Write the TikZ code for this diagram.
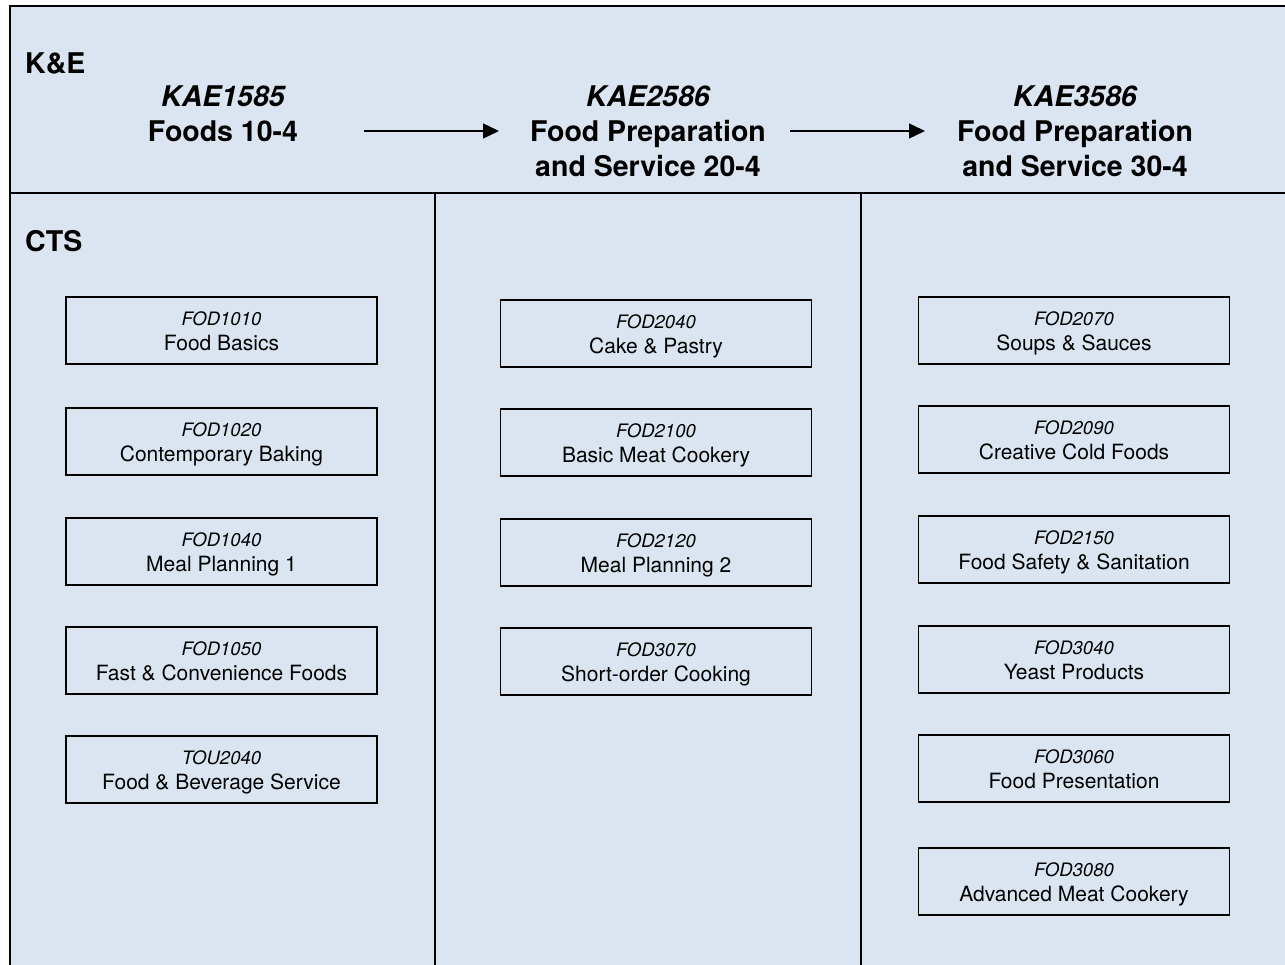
\documentclass[tikz,border=0pt]{standalone}
\usepackage{fontspec}
\setmainfont{TeX Gyre Heros}
\usetikzlibrary{arrows.meta}
\definecolor{bgblue}{HTML}{DBE5F1}
\tikzset{
  frameline/.style={line width=2pt, black},
  crsbox/.style={draw=black, line width=1.8pt, fill=bgblue, minimum width=311pt, minimum height=67pt, inner sep=0pt},
  codetxt/.style={font=\fontsize{18.5}{22}\selectfont\itshape, inner sep=0pt},
  titletxt/.style={font=\fontsize{21}{25}\selectfont, inner sep=0pt},
  hdtxt/.style={font=\fontsize{28.5}{34}\selectfont\bfseries, inner sep=0pt},
  hdcode/.style={font=\fontsize{28.5}{34}\selectfont\bfseries\itshape, inner sep=0pt},
  flow/.style={line width=1.3pt, -{Triangle[length=16pt,width=15pt]}}
}
\newcommand{\crs}[5]{%
  \node[crsbox] (#1) at (#2,#3+33.5) {};
  \node[codetxt, anchor=base] (#1c) at (#2,#3+28.5) {#4};
  \node[titletxt, anchor=base] (#1t) at (#2,#3+53.5) {#5};
}
\begin{document}
\begin{tikzpicture}[x=1pt,y=-1pt]
\useasboundingbox (0,0) rectangle (1285,965);
\fill[bgblue] (10,6) rectangle (1285,965);
% frame
\draw[frameline] (1285,6) -- (10,6) -- (10,965);
\draw[frameline] (10,193) -- (1285,193);
\draw[frameline] (435,193) -- (435,965);
\draw[frameline] (861,193) -- (861,965);
% labels
\node[hdtxt, anchor=base west] (ke) at (25,74) {K\&E};
\node[hdtxt, anchor=base west] (cts) at (25,252) {CTS};
% headers
\node[hdcode, anchor=base] (h1c) at (223,107) {KAE1585};
\node[hdtxt, anchor=base] (h1a) at (223,142) {Foods 10-4};
\node[hdcode, anchor=base] (h2c) at (648,107) {KAE2586};
\node[hdtxt, anchor=base] (h2a) at (648,142) {Food Preparation};
\node[hdtxt, anchor=base] (h2b) at (648,177) {and Service 20-4};
\node[hdcode, anchor=base] (h3c) at (1075,107) {KAE3586};
\node[hdtxt, anchor=base] (h3a) at (1075,142) {Food Preparation};
\node[hdtxt, anchor=base] (h3b) at (1075,177) {and Service 30-4};
% arrows
\coordinate (a1s) at (364,131);
\coordinate (a1e) at (499,131);
\coordinate (a2s) at (790,131);
\coordinate (a2e) at (925,131);
\draw[flow] (a1s) -- (a1e);
\draw[flow] (a2s) -- (a2e);
% left column
\crs{l1}{221.5}{297}{FOD1010}{Food Basics}
\crs{l2}{221.5}{408}{FOD1020}{Contemporary Baking}
\crs{l3}{221.5}{518}{FOD1040}{Meal Planning 1}
\crs{l4}{221.5}{627}{FOD1050}{Fast \& Convenience Foods}
\crs{l5}{221.5}{736}{TOU2040}{Food \& Beverage Service}
% middle column
\crs{m1}{656}{300}{FOD2040}{Cake \& Pastry}
\crs{m2}{656}{409}{FOD2100}{Basic Meat Cookery}
\crs{m3}{656}{519}{FOD2120}{Meal Planning 2}
\crs{m4}{656}{628}{FOD3070}{Short-order Cooking}
% right column
\crs{r1}{1074}{297}{FOD2070}{Soups \& Sauces}
\crs{r2}{1074}{406}{FOD2090}{Creative Cold Foods}
\crs{r3}{1074}{516}{FOD2150}{Food Safety \& Sanitation}
\crs{r4}{1074}{626}{FOD3040}{Yeast Products}
\crs{r5}{1074}{735}{FOD3060}{Food Presentation}
\crs{r6}{1074}{848}{FOD3080}{Advanced Meat Cookery}
\end{tikzpicture}
\end{document}
